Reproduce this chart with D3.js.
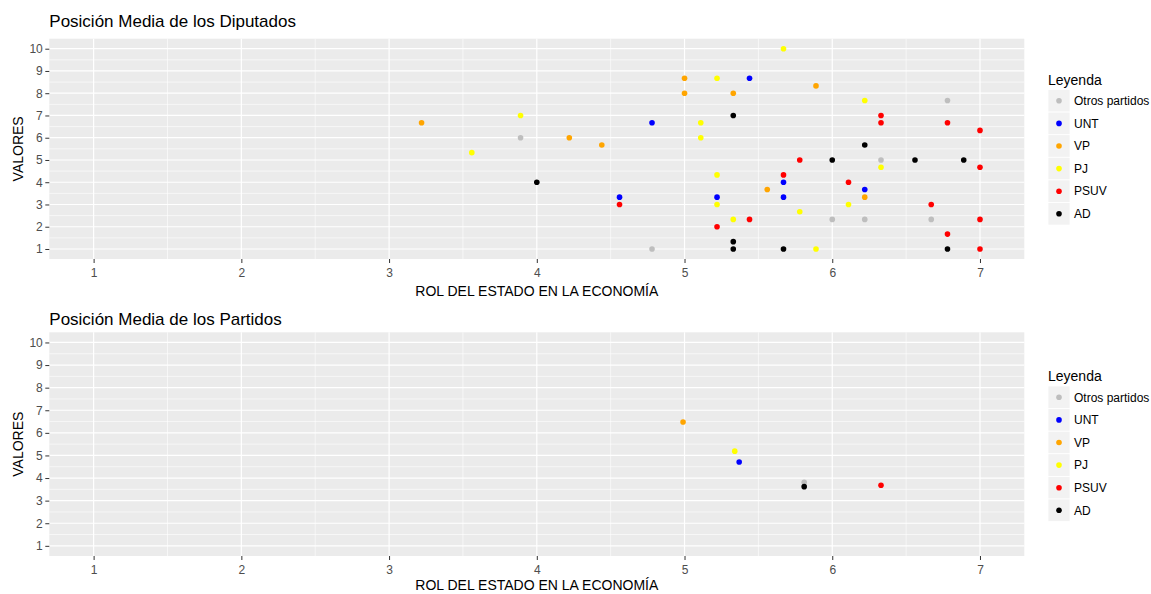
<!DOCTYPE html>
<html>
<head>
<meta charset="utf-8">
<script src="https://cdn.jsdelivr.net/npm/d3@7"></script>
<style>
  body { margin: 0; background: #fff; }
  text { font-family: "Liberation Sans", Arial, sans-serif; }
</style>
</head>
<body>
<div id="chart"></div>
<script>
// Parties in legend order
const parties = ["Otros partidos", "UNT", "VP", "PJ", "PSUV", "AD"];

// Diputados: [rol del estado, valores]
const dipOtros = [[3.89, 6], [4.78, 1], [6.78, 7.67], [6.33, 5], [6, 2.33], [6.22, 2.33], [6.67, 2.33]];
const dipUNT = [[4.56, 3.33], [4.78, 6.67], [5.44, 8.67], [5.67, 4], [6.22, 3.67], [5.22, 3.33], [5.67, 3.33]];
const dipVP = [[3.22, 6.67], [4.22, 6], [4.44, 5.67], [5, 8.67], [5, 8], [5.89, 8.33], [5.33, 8], [5.56, 3.67], [6.22, 3.33]];
const dipPJ = [[3.89, 7], [3.56, 5.33], [5.11, 6.67], [5.11, 6], [5.22, 8.67], [5.22, 4.33], [5.22, 3], [5.67, 10],
               [6.22, 7.67], [6.33, 4.67], [6.11, 3], [5.78, 2.67], [5.33, 2.33], [5.89, 1]];
const dipPSUV = [[4.56, 3], [5.22, 2], [6.33, 7], [6.33, 6.67], [6.78, 6.67], [7, 6.33], [5.78, 5], [7, 4.67],
                 [5.67, 4.33], [6.11, 4], [6.67, 3], [5.44, 2.33], [7, 2.33], [6.78, 1.67], [7, 1]];
const dipAD = [[4, 4], [5.33, 7], [6.22, 5.67], [6, 5], [6.56, 5], [6.89, 5], [5.33, 1.33], [5.33, 1], [5.67, 1], [6.78, 1]];

// Partidos: mean position per party (legend order)
const partidosX = [5.81, 5.37, 4.99, 5.34, 6.33, 5.81];
const partidosY = [3.81, 4.71, 6.48, 5.19, 3.68, 3.62];

// Axis ticks
const xTicks = [1, 2, 3, 4, 5, 6, 7];
const yTicks = [1, 2, 3, 4, 5, 6, 7, 8, 9, 10];

const diputados = [dipOtros, dipUNT, dipVP, dipPJ, dipPSUV, dipAD].flatMap((pts, i) =>
    pts.map(p => ({ party: parties[i], x: p[0], y: p[1] })));
const partidos = parties.map((p, i) => ({ party: p, x: partidosX[i], y: partidosY[i] }));

const color = d3.scaleOrdinal()
    .domain(parties)
    .range(["#BEBEBE", "#0000FF", "#FFA500", "#FFFF00", "#FF0000", "#000000"]);

const svg = d3.select("#chart")
    .append("svg")
    .attr("width", 1151)
    .attr("height", 594);

const left = 49.3, right = 1024.3;
const pointR = 2.8;

function drawPanel(data, opt) {
    const g = svg.append("g");

    const x = d3.scaleLinear().domain([0.7, 7.3]).range([left, right]);
    const y = d3.scaleLinear().domain([0.55, 10.45]).range([opt.bottom, opt.top]);

    // Panel background
    g.append("rect")
        .attr("x", left).attr("y", opt.top)
        .attr("width", right - left).attr("height", opt.bottom - opt.top)
        .attr("fill", "#EBEBEB");

    // Minor grid
    const xMinor = xTicks.slice(0, -1).map(d => d + 0.5);
    const yMinor = yTicks.slice(0, -1).map(d => d + 0.5);
    g.selectAll(".xminor").data(xMinor).enter().append("line")
        .attr("x1", d => x(d)).attr("x2", d => x(d))
        .attr("y1", opt.top).attr("y2", opt.bottom)
        .attr("stroke", "#fff").attr("stroke-width", 0.6);
    g.selectAll(".yminor").data(yMinor).enter().append("line")
        .attr("y1", d => y(d)).attr("y2", d => y(d))
        .attr("x1", left).attr("x2", right)
        .attr("stroke", "#fff").attr("stroke-width", 0.6);

    // Major grid
    g.selectAll(".xmajor").data(xTicks).enter().append("line")
        .attr("x1", d => x(d)).attr("x2", d => x(d))
        .attr("y1", opt.top).attr("y2", opt.bottom)
        .attr("stroke", "#fff").attr("stroke-width", 1.2);
    g.selectAll(".ymajor").data(yTicks).enter().append("line")
        .attr("y1", d => y(d)).attr("y2", d => y(d))
        .attr("x1", left).attr("x2", right)
        .attr("stroke", "#fff").attr("stroke-width", 1.2);

    // Axes
    const xAxis = g.append("g")
        .attr("transform", `translate(0,${opt.bottom})`)
        .call(d3.axisBottom(x).tickValues(xTicks).tickFormat(d3.format("d")).tickSize(4).tickPadding(5.5).tickSizeOuter(0));
    const yAxis = g.append("g")
        .attr("transform", `translate(${left},0)`)
        .call(d3.axisLeft(y).tickValues(yTicks).tickFormat(d3.format("d")).tickSize(4).tickPadding(2.5).tickSizeOuter(0));
    [xAxis, yAxis].forEach(a => {
        a.select(".domain").remove();
        a.selectAll(".tick line").attr("stroke", "#333333");
        a.selectAll(".tick text")
            .attr("fill", "#4D4D4D")
            .style("font-size", "12px")
            .style("font-family", "'Liberation Sans', Arial, sans-serif");
    });

    // Points
    g.selectAll(".pt").data(data).enter().append("circle")
        .attr("cx", d => x(d.x))
        .attr("cy", d => y(d.y))
        .attr("r", pointR)
        .attr("fill", d => color(d.party));

    // Title
    g.append("text")
        .attr("x", left)
        .attr("y", opt.titleY)
        .style("font-size", "17px")
        .attr("fill", "#000")
        .text(opt.title);

    // Axis titles
    g.append("text")
        .attr("x", (left + right) / 2)
        .attr("y", opt.xLabelY)
        .attr("text-anchor", "middle")
        .style("font-size", "14px")
        .attr("fill", "#000")
        .text("ROL DEL ESTADO EN LA ECONOMÍA");
    g.append("text")
        .attr("transform", `translate(23,${(opt.top + opt.bottom) / 2}) rotate(-90)`)
        .attr("text-anchor", "middle")
        .style("font-size", "14px")
        .attr("fill", "#000")
        .text("VALORES");

    // Legend
    const lg = g.append("g").attr("transform", `translate(1048,${opt.legendY})`);
    lg.append("text")
        .attr("x", 0).attr("y", -5)
        .style("font-size", "14px")
        .attr("fill", "#000")
        .text("Leyenda");
    const keyH = 22.6;
    const item = lg.selectAll(".key").data(parties).enter().append("g")
        .attr("transform", (d, i) => `translate(0,${i * keyH})`);
    item.append("rect")
        .attr("width", 22).attr("height", keyH)
        .attr("fill", "#F2F2F2").attr("stroke", "#fff").attr("stroke-width", 0.8);
    item.append("circle")
        .attr("cx", 11).attr("cy", keyH / 2)
        .attr("r", pointR)
        .attr("fill", d => color(d));
    item.append("text")
        .attr("x", 26).attr("y", keyH / 2)
        .attr("dy", "0.35em")
        .style("font-size", "12px")
        .attr("fill", "#000")
        .text(d => d);
}

drawPanel(diputados, {
    title: "Posición Media de los Diputados",
    top: 38.7, bottom: 259, titleY: 26.5, xLabelY: 296, legendY: 89.5
});
drawPanel(partidos, {
    title: "Posición Media de los Partidos",
    top: 332.3, bottom: 556, titleY: 325, xLabelY: 590, legendY: 386
});
</script>
</body>
</html>
